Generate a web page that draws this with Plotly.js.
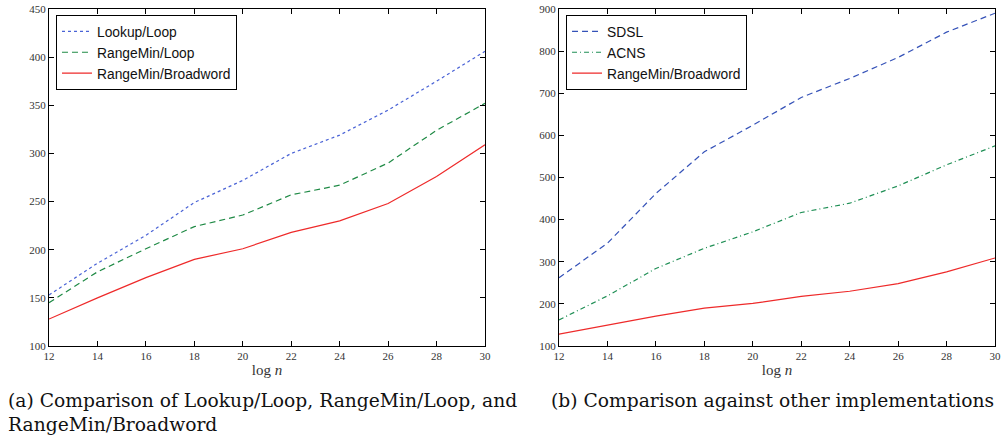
<!DOCTYPE html>
<html><head><meta charset="utf-8">
<script src="https://cdn.plot.ly/plotly-3.0.1.min.js"></script>
<style>html,body{margin:0;padding:0;background:#fff}#g{width:1007px;height:436px}</style>
</head><body><div id="g"></div>
<script>
const logN = [12,14,16,18,20,22,24,26,28,30];
const lookupLoop = [153,186,215,249,272,300,319,345,375,406];
const rangeMinLoop = [145,177,201,224,236,257,267,290,324,352];
const rangeMinBroadword = [128,150,171,190,201,218,230,248,276,309];
const sdsl = [262,344,462,561,624,690,735,785,845,890];
const acns = [162,219,284,332,371,417,439,480,530,575];
const xTicks = [12,14,16,18,20,22,24,26,28,30];
const yTicksA = [100,150,200,250,300,350,400,450];
const yTicksB = [100,200,300,400,500,600,700,800,900];

const traces = [
  {x:logN,y:lookupLoop,name:'Lookup/Loop',mode:'lines',xaxis:'x',yaxis:'y',legend:'legend',
   line:{color:'#4a63d6',width:1.2,dash:'dot'}},
  {x:logN,y:rangeMinLoop,name:'RangeMin/Loop',mode:'lines',xaxis:'x',yaxis:'y',legend:'legend',
   line:{color:'#1f8a45',width:1.2,dash:'6px,4px'}},
  {x:logN,y:rangeMinBroadword,name:'RangeMin/Broadword',mode:'lines',xaxis:'x',yaxis:'y',legend:'legend',
   line:{color:'#ee2a2a',width:1.2}},
  {x:logN,y:sdsl,name:'SDSL',mode:'lines',xaxis:'x2',yaxis:'y2',legend:'legend2',
   line:{color:'#3552b8',width:1.2,dash:'6px,4px'}},
  {x:logN,y:acns,name:'ACNS',mode:'lines',xaxis:'x2',yaxis:'y2',legend:'legend2',
   line:{color:'#1f8f55',width:1.2,dash:'5px,3px,1px,3px'}},
  {x:logN,y:rangeMinBroadword,name:'RangeMin/Broadword',mode:'lines',xaxis:'x2',yaxis:'y2',legend:'legend2',
   line:{color:'#ee2a2a',width:1.2}}
];

const tickFont = {family:'Liberation Serif, DejaVu Serif, serif',size:11,color:'#333'};
function xax(dom, anchor){
  return {domain:dom,anchor:anchor,range:[12,30],tickvals:xTicks,ticktext:xTicks.map(String),
    ticks:'inside',ticklen:5,tickcolor:'#000',mirror:'allticks',showline:true,linecolor:'#000',linewidth:1,
    showgrid:false,zeroline:false,tickfont:tickFont,
    title:{text:'log <i>n</i>',font:{family:'Liberation Serif, serif',size:15,color:'#333'},standoff:3}};
}
function yax(dom, anchor, rng, tv){
  return {domain:dom,anchor:anchor,range:rng,tickvals:tv,ticktext:tv.map(String),
    ticks:'inside',ticklen:5,tickcolor:'#000',mirror:'allticks',showline:true,linecolor:'#000',linewidth:1,
    showgrid:false,zeroline:false,tickfont:tickFont};
}
const yDom = [0.2064,0.9794];
const legendBase = {bgcolor:'#fff',bordercolor:'#000',borderwidth:1,
  font:{family:'Liberation Sans, Arial, sans-serif',size:13.8,color:'#111'},
  xanchor:'left',yanchor:'top',tracegroupgap:0,itemwidth:30};
const capFont = {family:'DejaVu Serif, serif',size:18.7,color:'#111'};
const layout = {
  width:1007,height:436,margin:{l:0,r:0,t:0,b:0},paper_bgcolor:'#fff',plot_bgcolor:'#fff',
  showlegend:true,
  xaxis:xax([0.0487,0.4816],'y'),
  yaxis:yax(yDom,'x',[100,450],yTicksA),
  xaxis2:xax([0.5551,0.9881],'y2'),
  yaxis2:yax(yDom,'x2',[100,900],yTicksB),
  legend:Object.assign({},legendBase,{x:0.0556,y:0.966}),
  legend2:Object.assign({},legendBase,{x:0.5621,y:0.966}),
  annotations:[
    {xref:'paper',yref:'paper',x:6/1007,y:1-388/436,xanchor:'left',yanchor:'top',align:'left',showarrow:false,
     text:'(a) Comparison of Lookup/Loop, RangeMin/Loop, and<br>RangeMin/Broadword',font:capFont},
    {xref:'paper',yref:'paper',x:549/1007,y:1-388/436,xanchor:'left',yanchor:'top',align:'left',showarrow:false,
     text:'(b) Comparison against other implementations',font:capFont}
  ]
};
Plotly.newPlot('g',traces,layout,{displayModeBar:false,staticPlot:true});
</script></body></html>
